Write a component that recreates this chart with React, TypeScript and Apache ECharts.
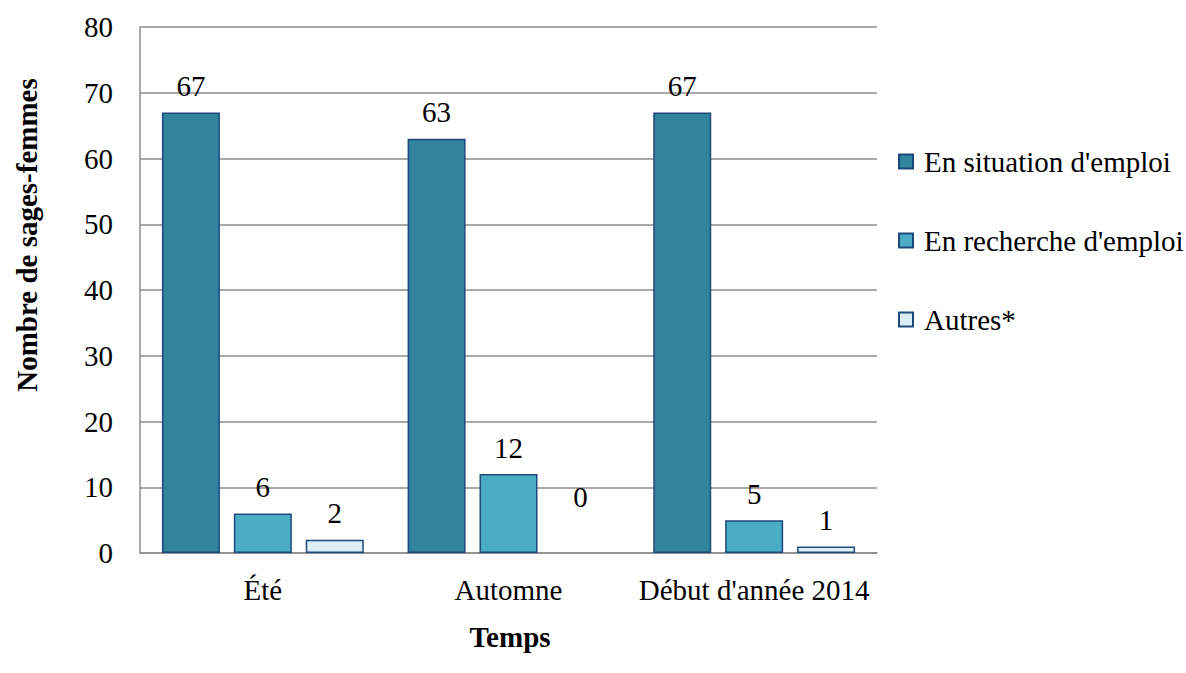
import React, { useEffect, useRef } from "react";
import * as echarts from "echarts";

const categories = ["Été", "Automne", "Début d'année 2014"];
const seriesNames = ["En situation d'emploi", "En recherche d'emploi", "Autres*"];
const emploi = [67, 63, 67];
const recherche = [6, 12, 5];
const autres = [2, 0, 1];
const yTicks = { min: 0, max: 80, interval: 10 };
const colors = ["#31849B", "#4BACC6", "#DBEEF4"];

const FONT = "Liberation Serif";
const FS = 29;

export default function App() {
  const ref = useRef<HTMLDivElement>(null);
  useEffect(() => {
    if (!ref.current) return;
    const chart = echarts.init(ref.current, undefined, { renderer: "svg" });
    const values = [emploi, recherche, autres];
    const mkData = (arr: number[]) =>
      arr.map((v) =>
        v === 0
          ? { value: v, label: { offset: [0, -30] }, itemStyle: { borderWidth: 0 } }
          : v
      );
    chart.setOption({
      animation: false,
      textStyle: { fontFamily: FONT },
      grid: { left: 140, right: 309, top: 27, bottom: 120 },
      legend: {
        orient: "vertical",
        left: 893,
        top: 142,
        itemWidth: 14,
        itemHeight: 14,
        itemGap: 50,
        icon: "rect",
        data: seriesNames,
        textStyle: {
          fontFamily: FONT,
          fontSize: FS,
          color: "#000",
          lineHeight: 29,
          padding: [0, 0, 0, 6],
        },
      },
      xAxis: {
        type: "category",
        data: categories,
        axisTick: { show: false },
        axisLine: { lineStyle: { color: "#8c8c8c", width: 1.5 } },
        axisLabel: { fontFamily: FONT, fontSize: FS, color: "#000", margin: 22, interval: 0 },
      },
      yAxis: {
        type: "value",
        min: yTicks.min,
        max: yTicks.max,
        interval: yTicks.interval,
        axisLine: { show: true, lineStyle: { color: "#8c8c8c", width: 1.5 } },
        axisTick: { show: false },
        splitLine: { lineStyle: { color: "#8c8c8c", width: 1.5 } },
        axisLabel: { fontFamily: FONT, fontSize: FS, color: "#000", margin: 27 },
      },
      graphic: [
        {
          type: "text",
          x: 27,
          y: 235,
          rotation: Math.PI / 2,
          style: {
            text: "Nombre de sages-femmes",
            fontFamily: FONT,
            fontSize: 29,
            fontWeight: "bold",
            fill: "#000",
            textAlign: "center",
            textVerticalAlign: "middle",
          },
        },
        {
          type: "text",
          x: 510,
          y: 637,
          style: {
            text: "Temps",
            fontFamily: FONT,
            fontSize: 29,
            fontWeight: "bold",
            fill: "#000",
            textAlign: "center",
            textVerticalAlign: "middle",
          },
        },
      ],
      series: seriesNames.map((name, i) => ({
        name,
        type: "bar",
        data: mkData(values[i]),
        barWidth: 58,
        barGap: "24%",
        itemStyle: { color: colors[i], borderColor: "#1F497D", borderWidth: 1.5 },
        label: {
          show: true,
          position: "top",
          distance: 12,
          fontFamily: FONT,
          fontSize: FS,
          color: "#000",
        },
      })),
    });
    return () => chart.dispose();
  }, []);
  return (
    <div
      ref={ref}
      style={{ position: "fixed", left: 0, top: 0, width: 1186, height: 673, background: "#fff" }}
    />
  );
}
